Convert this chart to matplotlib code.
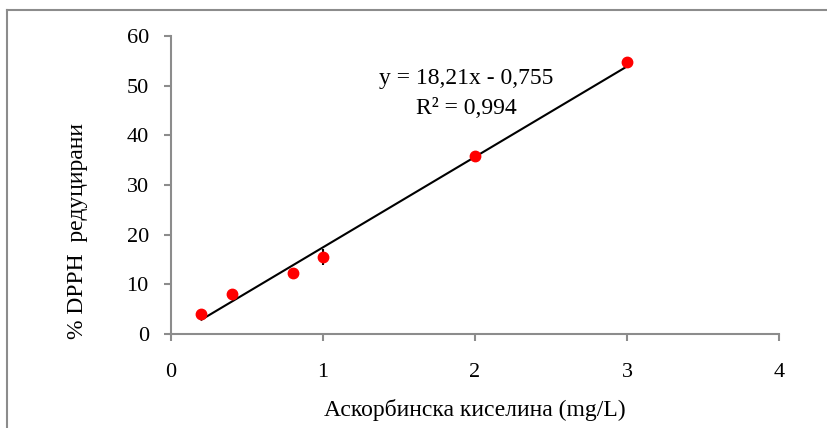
import matplotlib
matplotlib.use("Agg")
import matplotlib.pyplot as plt
import numpy as np
from matplotlib.lines import Line2D

plt.rcParams['font.family'] = ['Liberation Serif', 'DejaVu Serif']

konc = [0.2, 0.4, 0.8, 1.0, 2.0, 3.0]
dpph = [4.0, 8.0, 12.3, 15.5, 35.8, 54.7]
greska = [0.4, 0.8, 0.5, 1.7, 0.6, 0.4]
nakl, presek = 18.21, -0.755

fig = plt.figure(figsize=(8.27, 4.28), dpi=100)
ax = fig.add_axes([0.2068, 0.2196, 0.7352, 0.6963])

# ramka kako vo Excel
fig.add_artist(Line2D([0.0085, 0.0085], [0, 0.977], color='#8c8c8c', lw=1.5))
fig.add_artist(Line2D([0.0085, 1.0], [0.977, 0.977], color='#8c8c8c', lw=1.5))

xl = np.array([konc[0], konc[-1]])
ax.plot(xl, nakl * xl + presek, color='black', lw=1.5, zorder=2)
ax.errorbar(konc, dpph, yerr=greska, fmt='o', color='#ff0000', ecolor='black',
            elinewidth=1.5, capsize=0, ms=7.5, zorder=3)

ax.text(1.94, 51.5, 'y = 18,21x - 0,755', ha='center', va='center', fontsize=17)
ax.text(1.94, 45.5, 'R² = 0,994', ha='center', va='center', fontsize=17)

ax.set_xlim(0, 4)
ax.set_ylim(0, 60)
ax.set_xticks([0, 1, 2, 3, 4])
ax.set_yticks(range(0, 61, 10))
for s in ['top', 'right']:
    ax.spines[s].set_visible(False)
for s in ['left', 'bottom']:
    ax.spines[s].set_color('#8c8c8c')
    ax.spines[s].set_linewidth(1.5)
ax.tick_params(colors='#8c8c8c', labelcolor='black', labelsize=16, length=5, width=1.5)
ax.tick_params(axis='x', pad=16)
ax.tick_params(axis='y', pad=11)

ax.set_xlabel('Аскорбинска киселина (mg/L)', fontsize=17, labelpad=12)
ax.set_ylabel('% DPPH  редуцирани', fontsize=17)
ax.yaxis.set_label_coords(-0.137, 0.346)

fig.savefig('out.png', dpi=100)
